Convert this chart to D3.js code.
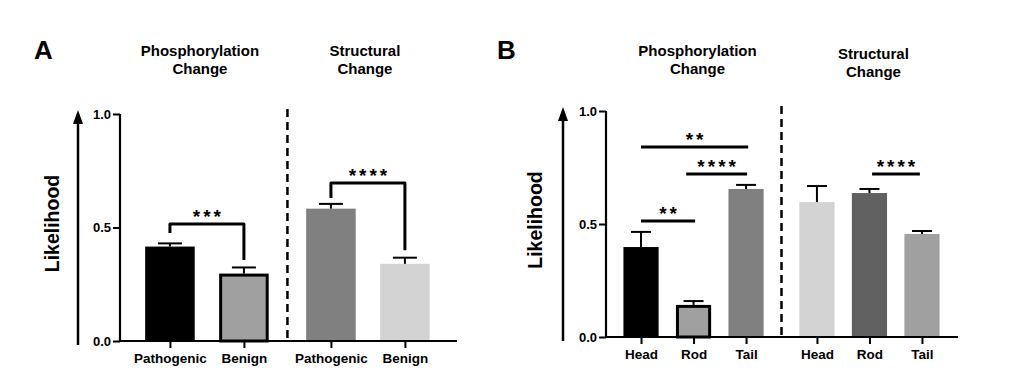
<!DOCTYPE html>
<html>
<head>
<meta charset="utf-8">
<script src="https://cdn.jsdelivr.net/npm/d3@7"></script>
<style>
  body { margin: 0; background: #fff; }
  text { font-family: "Liberation Sans", Arial, sans-serif; font-weight: bold; fill: #000; }
</style>
</head>
<body>
<div id="chart"></div>
<script>
// chart values
const groupTitles = ["Phosphorylation Change", "Structural Change"];
const yTicks = [0, 0.5, 1.0];

const catsA = ["Pathogenic", "Benign", "Pathogenic", "Benign"];
const groupOfA = [0, 0, 1, 1];
const valuesA = [0.416, 0.297, 0.583, 0.340];
const errorsA = [0.014, 0.027, 0.021, 0.027];

const catsB = ["Head", "Rod", "Tail", "Head", "Rod", "Tail"];
const groupOfB = [0, 0, 0, 1, 1, 1];
const valuesB = [0.398, 0.142, 0.655, 0.597, 0.637, 0.456];
const errorsB = [0.067, 0.017, 0.018, 0.071, 0.018, 0.013];

// significance marks: bar slots, level, and leg ends (A only)
const sigA = [
  { from: 0, to: 1, level: 0.515, leftEnd: 0.476, rightEnd: 0.357, label: "***" },
  { from: 2.176, to: 3.176, level: 0.696, leftEnd: 0.630, rightEnd: 0.400, label: "****" }
];
const sigB = [
  { from: 0, to: 1.03, level: 0.513, label: "**" },
  { from: 0.86, to: 2.02, level: 0.721, label: "****" },
  { from: 0, to: 2.04, level: 0.841, label: "**" },
  { from: 4.4, to: 5.31, level: 0.721, label: "****" }
];

// bar styles
const fillsA = ["#000000", "#a0a0a0", "#808080", "#d3d3d3"];
const outlineA = [false, true, false, false];
const fillsB = ["#000000", "#a0a0a0", "#808080", "#d3d3d3", "#606060", "#a0a0a0"];
const outlineB = [false, true, false, false, false, false];

const svg = d3.select("#chart").append("svg")
  .attr("width", 1024)
  .attr("height", 376);

function drawPanel(p) {
  const g = svg.append("g");
  // slot position of each bar, with an extra gap between the two groups
  const slots = p.cats.map((c, i) => i + p.groupOf[i] * p.gap);

  const x = d3.scaleLinear().domain(p.xDomain).range([p.left, p.right]);
  const y = d3.scaleLinear().domain([0, 1]).range([p.bottom, p.top]);
  const bw = (x(1) - x(0)) * 0.67;

  // panel letter
  g.append("text").attr("x", p.letterX).attr("y", 59)
    .style("font-size", "26px").text(p.letter);

  // group titles
  const mid = [0, 1].map(k => d3.mean(slots.filter((s, i) => p.groupOf[i] === k)));
  groupTitles.forEach((t, k) => {
    const cx = x(mid[k]) + p.titleShift[k];
    const tx = g.append("text")
      .attr("x", cx)
      .attr("y", 56 + p.titleDy[k])
      .attr("text-anchor", "middle")
      .style("font-size", "15px");
    t.split(" ").forEach((w, j) => {
      tx.append("tspan").attr("x", cx)
        .attr("dy", j === 0 ? 0 : 18).text(w);
    });
  });

  // bars
  g.selectAll(".bar").data(p.values).join("rect")
    .attr("x", (d, i) => x(slots[i]) - bw / 2 + (p.outline[i] ? 1.5 : 0))
    .attr("width", (d, i) => bw - (p.outline[i] ? 3 : 0))
    .attr("y", (d, i) => y(d) + (p.outline[i] ? 1.5 : 0))
    .attr("height", (d, i) => y(0) - y(d) - (p.outline[i] ? 1.5 : 0))
    .attr("fill", (d, i) => p.fills[i])
    .attr("stroke", (d, i) => p.outline[i] ? "#000" : "none")
    .attr("stroke-width", 3);

  // error bars (upper only)
  const err = g.selectAll(".err").data(p.values).join("g");
  err.append("line")
    .attr("x1", (d, i) => x(slots[i])).attr("x2", (d, i) => x(slots[i]))
    .attr("y1", d => y(d)).attr("y2", (d, i) => y(d + p.errors[i]))
    .attr("stroke", "#000").attr("stroke-width", 2);
  err.append("line")
    .attr("x1", (d, i) => x(slots[i]) - p.cap).attr("x2", (d, i) => x(slots[i]) + p.cap)
    .attr("y1", (d, i) => y(d + p.errors[i])).attr("y2", (d, i) => y(d + p.errors[i]))
    .attr("stroke", "#000").attr("stroke-width", 2);

  // y axis
  const yAxis = g.append("g")
    .attr("transform", `translate(${p.left},0)`)
    .call(d3.axisLeft(y).tickValues(yTicks).tickFormat(d3.format(".1f")).tickSize(7).tickPadding(2));
  yAxis.select(".domain").attr("stroke-width", 2.2).attr("d", `M0,${p.top}V${p.bottom}`);
  yAxis.selectAll(".tick line").attr("stroke-width", 2);
  yAxis.selectAll(".tick text").style("font-size", "13px").style("font-family", null);

  // x axis
  const xAxis = g.append("g")
    .attr("transform", `translate(0,${p.bottom})`)
    .call(d3.axisBottom(x).tickValues(slots).tickFormat((d, i) => p.cats[i]).tickSize(7).tickPadding(5));
  xAxis.select(".domain").attr("stroke-width", 2.2).attr("d", `M${p.left},0H${p.right}`);
  xAxis.selectAll(".tick line").attr("stroke-width", 2);
  xAxis.selectAll(".tick text").style("font-size", "13.5px").style("font-family", null);

  // dashed separator
  const sepX = x((slots[p.splitAt - 1] + slots[p.splitAt]) / 2);
  g.append("line")
    .attr("x1", sepX).attr("x2", sepX)
    .attr("y1", p.top - 5).attr("y2", p.bottom)
    .attr("stroke", "#000").attr("stroke-width", 2.5)
    .attr("stroke-dasharray", "8,5");

  // arrow with y label
  g.append("line")
    .attr("x1", p.arrowX).attr("x2", p.arrowX)
    .attr("y1", p.bottom + 4).attr("y2", p.top + 8)
    .attr("stroke", "#000").attr("stroke-width", 2.5);
  g.append("path")
    .attr("d", `M${p.arrowX},${p.top - 4}L${p.arrowX + 5},${p.top + 10}L${p.arrowX - 5},${p.top + 10}Z`)
    .attr("fill", "#000");
  g.append("text")
    .attr("transform", `translate(${p.labelX},${(p.top + p.bottom) / 2 - 4}) rotate(-90)`)
    .attr("text-anchor", "middle")
    .style("font-size", "19.5px")
    .text("Likelihood");

  // significance marks
  p.sig.forEach(s => {
    const x0 = x(s.from), x1 = x(s.to), yl = y(s.level);
    let d = `M${x0},${yl}H${x1}`;
    if (s.leftEnd !== undefined) {
      d = `M${x0},${y(s.leftEnd)}V${yl}H${x1}V${y(s.rightEnd)}`;
    }
    g.append("path").attr("d", d)
      .attr("fill", "none").attr("stroke", "#000")
      .attr("stroke-width", 3).attr("stroke-linejoin", "round");
    g.append("text")
      .attr("x", (x0 + x1) / 2 + 1.5).attr("y", yl - 1)
      .attr("text-anchor", "middle")
      .style("font-size", "19px").style("letter-spacing", "3px")
      .text(s.label);
  });
}

drawPanel({
  letter: "A", letterX: 34,
  cats: catsA, groupOf: groupOfA, values: valuesA, errors: errorsA,
  fills: fillsA, outline: outlineA, sig: sigA,
  gap: 0.176, splitAt: 2,
  xDomain: [-0.675, 3.88], left: 120, right: 457,
  top: 114, bottom: 341,
  cap: 12, arrowX: 78, labelX: 59,
  titleShift: [-7, -3], titleDy: [0, 0]
});

drawPanel({
  letter: "B", letterX: 497,
  cats: catsB, groupOf: groupOfB, values: valuesB, errors: errorsB,
  fills: fillsB, outline: outlineB, sig: sigB,
  gap: 0.35, splitAt: 3,
  xDomain: [-0.667, 6.036], left: 606, right: 958,
  top: 111, bottom: 337,
  cap: 10, arrowX: 563, labelX: 542,
  titleShift: [4, 4], titleDy: [0, 3]
});
</script>
</body>
</html>
